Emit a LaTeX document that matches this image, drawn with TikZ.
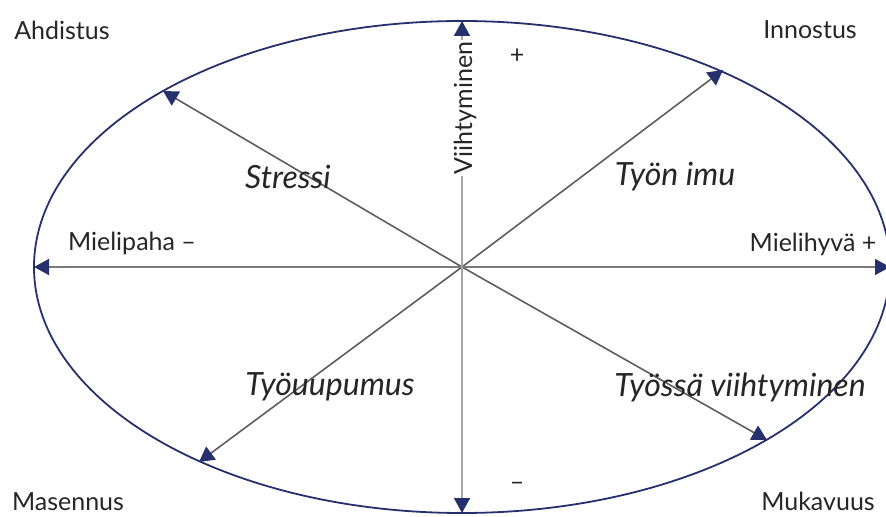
\documentclass[tikz,border=0pt]{standalone}
\usepackage{fontspec}
\setmainfont{Lato}
\usetikzlibrary{arrows.meta}
\definecolor{navy}{HTML}{25306C}
\definecolor{diaggray}{HTML}{5E5E5E}
\definecolor{axisgray}{HTML}{7A7A7A}
\definecolor{lightgray}{HTML}{A5A5A5}

\begin{document}
\begin{tikzpicture}[
  x=0.5pt,y=-0.5pt,
  lab/.style={font=\fontsize{12.5}{14}\selectfont,text=black!85},
  zone/.style={font=\fontsize{16}{18}\selectfont\itshape,text=black!85},
  arr/.style={line width=0.8pt,-{Triangle[length=7.5pt,width=8pt,color=navy]}}
]
\useasboundingbox (0,0) rectangle (886,517);
\coordinate (o) at (462,267);
\draw[navy,line width=0.9pt] (o) ellipse [x radius=428, y radius=246];

% ends of the arrows on the ellipse
\coordinate (ul) at (163,91);
\coordinate (ur) at (723,70);
\coordinate (ll) at (199,462);
\coordinate (lr) at (767,440);
\coordinate (lt) at (34,267);
\coordinate (rt) at (890,267);
\coordinate (tp) at (462,21);
\coordinate (bt) at (462,513);

\draw[arr,draw=diaggray] (o) -- (ul);
\draw[arr,draw=diaggray] (o) -- (ur);
\draw[arr,draw=diaggray] (o) -- (ll);
\draw[arr,draw=diaggray] (o) -- (lr);
\draw[arr,draw=axisgray] (o) -- (lt);
\draw[arr,draw=axisgray] (o) -- (rt);
\draw[arr,draw=lightgray] (o) -- (tp);
\draw[arr,draw=lightgray] (o) -- (bt);

\node[lab,rotate=90,fill=white,inner sep=1pt] (vii) at (465,108) {Viihtyminen};
\node[lab] (pl) at (517,56) {+};
\node[lab] (mn) at (517,486) {--};
\node[lab] (mp) at (132,243) {Mielipaha --};
\node[lab] (mh) at (813,244) {Mielihyvä +};

\node[lab] (ah) at (62,30) {Ahdistus};
\node[lab] (in) at (810,30) {Innostus};
\node[lab] (ms) at (68,502) {Masennus};
\node[lab] (mk) at (818,501) {Mukavuus};

\node[zone] (str) at (288,177) {Stressi};
\node[zone] (imu) at (675,177) {Työn imu};
\node[zone] (uup) at (330,387) {Työuupumus};
\node[zone] (vht) at (740,387) {Työssä viihtyminen};
\end{tikzpicture}
\end{document}
